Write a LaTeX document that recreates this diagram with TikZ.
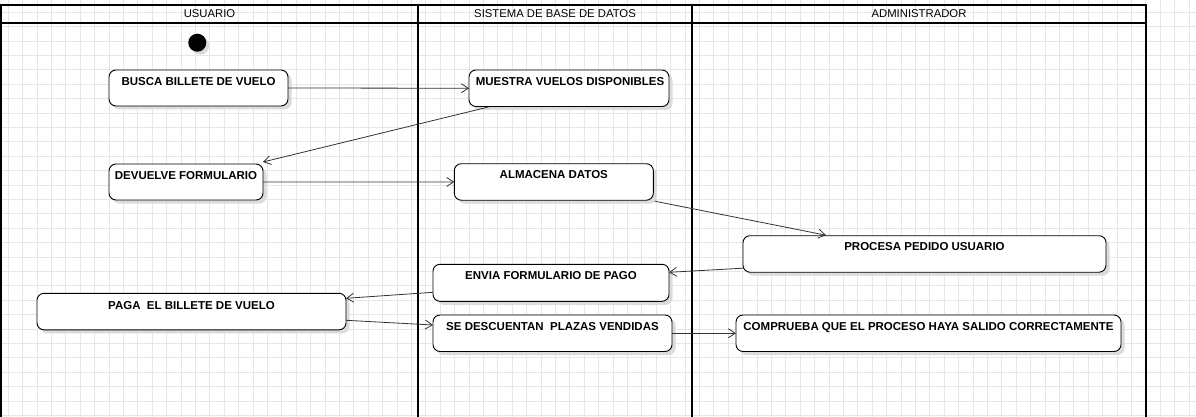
\documentclass[tikz,border=0pt]{standalone}
\usepackage{fontspec}
\setmainfont{Liberation Sans}
\usetikzlibrary{arrows.meta,shadows,calc}
\definecolor{gridc}{HTML}{E6E6E6}
\begin{document}
\begin{tikzpicture}[x=1pt,y=-1pt,
  act/.style={draw=black, line width=0.9pt, rounded corners=7pt, fill=white, anchor=north west,
    inner sep=0pt, outer sep=0pt,
    drop shadow={shadow xshift=3.5pt, shadow yshift=-3.5pt, fill=black!14, opacity=1}},
  lbl/.style={font=\fontsize{11.5}{13}\selectfont\bfseries, anchor=north, inner sep=0pt},
  lanehead/.style={draw=black, line width=1.7pt, anchor=north west, inner sep=0pt, outer sep=0pt,
    minimum height=18pt, font=\fontsize{11.3}{13}\selectfont},
  lane/.style={draw=black, line width=1.7pt},
  flow/.style={draw=black!80, line width=0.8pt, -{Straight Barb[length=7pt,width=9pt,line width=0.8pt]}}
]
\useasboundingbox (0,0) rectangle (1196,417);
\clip (0,0) rectangle (1196,417);
\fill[white] (0,0) rectangle (1196,417);
% grid
\foreach \i in {0,...,82} \draw[gridc, line width=0.9pt] (8.3+14.4*\i,0) -- ++(0,417);
\foreach \j in {0,...,29} \draw[gridc, line width=0.9pt] (0,-2.1+14.4*\j) -- ++(1196,0);

% swimlanes
\node[lanehead, minimum width=417pt] (h1) at (1,5) {USUARIO};
\node[lanehead, minimum width=274pt] (h2) at (418,5) {SISTEMA DE BASE DE DATOS};
\node[lanehead, minimum width=454pt] (h3) at (692,5) {ADMINISTRADOR};
\coordinate (l0) at ($(h1.south west)+(0,420)$);
\coordinate (l1) at ($(h2.south west)+(0,420)$);
\coordinate (l2) at ($(h3.south west)+(0,420)$);
\coordinate (l3) at ($(h3.south east)+(0,420)$);
\draw[lane] (h1.south west) -- (l0);
\draw[lane] (h2.south west) -- (l1);
\draw[lane] (h3.south west) -- (l2);
\draw[lane] (h3.south east) -- (l3);

% start
\node[circle, fill=black, minimum size=18pt, inner sep=0pt,
  drop shadow={shadow xshift=3pt, shadow yshift=-3pt, fill=black!14, opacity=1}] (s) at (197.3,42.7) {};

% activities
\node[act, minimum width=179pt, minimum height=36pt] (b1) at (109,70) {};
\node[lbl] at ($(b1.north)+(0,7)$) {BUSCA BILLETE DE VUELO};
\node[act, minimum width=200pt, minimum height=36.5pt] (b2) at (469,70) {};
\node[lbl] at ($(b2.north)+(1,7)$) {MUESTRA VUELOS DISPONIBLES};
\node[act, minimum width=154pt, minimum height=36pt] (b4) at (109,164) {};
\node[lbl] at ($(b4.north)+(0,7)$) {DEVUELVE FORMULARIO};
\node[act, minimum width=199pt, minimum height=36.5pt] (b5) at (454.3,163.7) {};
\node[lbl] at ($(b5.north)+(0,7)$) {ALMACENA DATOS};
\node[act, minimum width=363pt, minimum height=36.5pt] (b6) at (743,235.7) {};
\node[lbl] at ($(b6.north)+(0,7)$) {PROCESA PEDIDO USUARIO};
\node[act, minimum width=236pt, minimum height=37pt] (b7) at (433,264.3) {};
\node[lbl] at ($(b7.north)+(0,7)$) {ENVIA FORMULARIO DE PAGO};
\node[act, minimum width=309pt, minimum height=36.5pt] (b8) at (37,293.3) {};
\node[lbl] at ($(b8.north)+(0,7.5)$) {PAGA\ \ EL BILLETE DE VUELO};
\node[act, minimum width=239pt, minimum height=36.5pt] (b9) at (433,315) {};
\node[lbl] at ($(b9.north)+(0,7)$) {SE DESCUENTAN\ \ PLAZAS VENDIDAS};
\node[act, minimum width=385pt, minimum height=36.5pt] (b10) at (736,315) {};
\node[lbl] at ($(b10.north)+(0,7)$) {COMPRUEBA QUE EL PROCESO HAYA SALIDO CORRECTAMENTE};

% flows
\draw[flow] (b1.east) -- (b2.west);
\draw[flow] ($(b2.south west)+(19.5,0.5)$) -- ($(b4.north east)+(0,-2)$);
\draw[flow] (b4.east) -- (b5.west);
\draw[flow] ($(b5.south east)+(1.5,1)$) -- ($(b6.north west)+(83,-0.5)$);
\draw[flow] ($(b6.south west)+(0,-4)$) -- ($(b7.north east)+(0,8)$);
\draw[flow] ($(b7.south west)+(0,-9)$) -- ($(b8.north east)+(0,5)$);
\draw[flow] ($(b8.north east)+(0,27)$) -- ($(b9.north west)+(0,10)$);
\draw[flow] (b9.east) -- (b10.west);
\end{tikzpicture}
\end{document}
